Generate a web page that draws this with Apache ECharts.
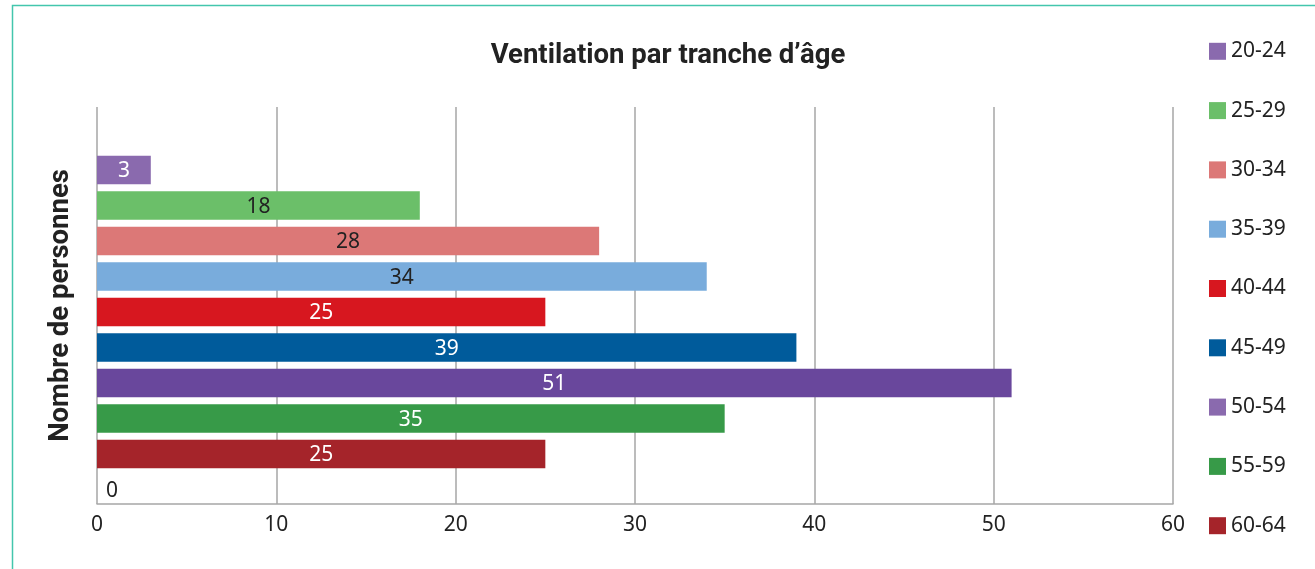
<!DOCTYPE html>
<html>
<head>
<meta charset="utf-8">
<script src="https://cdn.jsdelivr.net/npm/echarts@6/dist/echarts.min.js"></script>
<style>
html,body{margin:0;padding:0;background:#fff;}
#chart{width:1315px;height:569px;}
</style>
</head>
<body>
<div id="chart"></div>
<script>
// Data
var ageGroups = ['20-24','25-29','30-34','35-39','40-44','45-49','50-54','55-59','60-64','65+'];
var counts = [3, 18, 28, 34, 25, 39, 51, 35, 25, 0];
var legendGroups = ['20-24','25-29','30-34','35-39','40-44','45-49','50-54','55-59','60-64'];
var xTicks = [0, 10, 20, 30, 40, 50, 60];
var titleText = 'Ventilation par tranche d\u2019\u00e2ge';
var yAxisTitle = 'Nombre de personnes';

var barColors = ['#8a6aae','#6bbf69','#dc7877','#79acdc','#d7171f','#005b9b','#69479c','#379a48','#a5242a','#888888'];
var legendColors = {'50-54':'#8a6aae'};
var labelColors = ['#ffffff','#222222','#222222','#222222','#ffffff','#ffffff','#ffffff','#ffffff','#ffffff','#222222'];

var FONT = '"Noto Sans", sans-serif';
var TFONT = '"Roboto", sans-serif';

var series = ageGroups.map(function(name, i){
  var isZero = counts[i] === 0;
  return {
    type: 'bar',
    name: name,
    xAxisIndex: 1,
    yAxisIndex: 1,
    data: [counts[i]],
    barWidth: 28.7,
    barGap: '23.7%',
    itemStyle: {color: barColors[i]},
    label: {
      show: true,
      position: isZero ? 'right' : 'inside',
      distance: 9,
      offset: [0, 1.5],
      color: labelColors[i],
      fontFamily: FONT,
      fontSize: 21
    },
    emphasis: {disabled: true}
  };
});

var chart = echarts.init(document.getElementById('chart'), null, {renderer: 'canvas'});
chart.setOption({
  animation: false,
  backgroundColor: '#ffffff',
  title: {
    text: titleText,
    left: 663,
    textAlign: 'center',
    top: 37,
    textStyle: {fontFamily: TFONT, fontWeight: 'bold', fontSize: 27.5, color: '#222222'}
  },
  legend: {
    orient: 'vertical',
    left: 1209,
    top: 40.8,
    padding: 0,
    itemWidth: 17,
    itemHeight: 17,
    itemGap: 38.3,
    itemTextGap: 6,
    icon: 'rect',
    selectedMode: false,
    textStyle: {fontFamily: FONT, fontSize: 21, lineHeight: 21, color: '#222222'},
    data: legendGroups.map(function(g){
      var idx = ageGroups.indexOf(g);
      return {name: g, itemStyle: {color: legendColors[g] || barColors[idx]}};
    })
  },
  grid: [
    {left: 97, right: 142, top: 107, bottom: 65, containLabel: false},
    {left: 97, right: 142, top: 152, bottom: 61.5, containLabel: false}
  ],
  xAxis: [
    {
      type: 'value', gridIndex: 0, min: xTicks[0], max: xTicks[xTicks.length-1], interval: 10,
      axisLine: {show: true, lineStyle: {color: '#a6a6a6', width: 1.5}},
      axisTick: {show: false},
      splitLine: {show: true, lineStyle: {color: '#a6a6a6', width: 1.5}},
      axisLabel: {fontFamily: FONT, fontSize: 21, color: '#222222', margin: 11}
    },
    {
      type: 'value', gridIndex: 1, min: xTicks[0], max: xTicks[xTicks.length-1], interval: 10,
      show: false, splitLine: {show: false}
    }
  ],
  yAxis: [
    {
      type: 'category', gridIndex: 0, data: [''],
      axisLine: {show: false}, axisTick: {show: false}, axisLabel: {show: false},
      name: yAxisTitle, nameLocation: 'middle', nameRotate: 90, nameGap: 22,
      nameTextStyle: {fontFamily: TFONT, fontWeight: 'bold', fontSize: 27.5, color: '#222222'}
    },
    {
      type: 'category', gridIndex: 1, data: [''], inverse: true, show: false
    }
  ],
  graphic: [
    {type: 'rect', shape: {x: 12.5, y: 5.5, width: 1400, height: 600}, style: {fill: null, stroke: '#43c6ad', lineWidth: 1.5}, silent: true, z: 100}
  ],
  series: series
});
</script>
</body>
</html>
